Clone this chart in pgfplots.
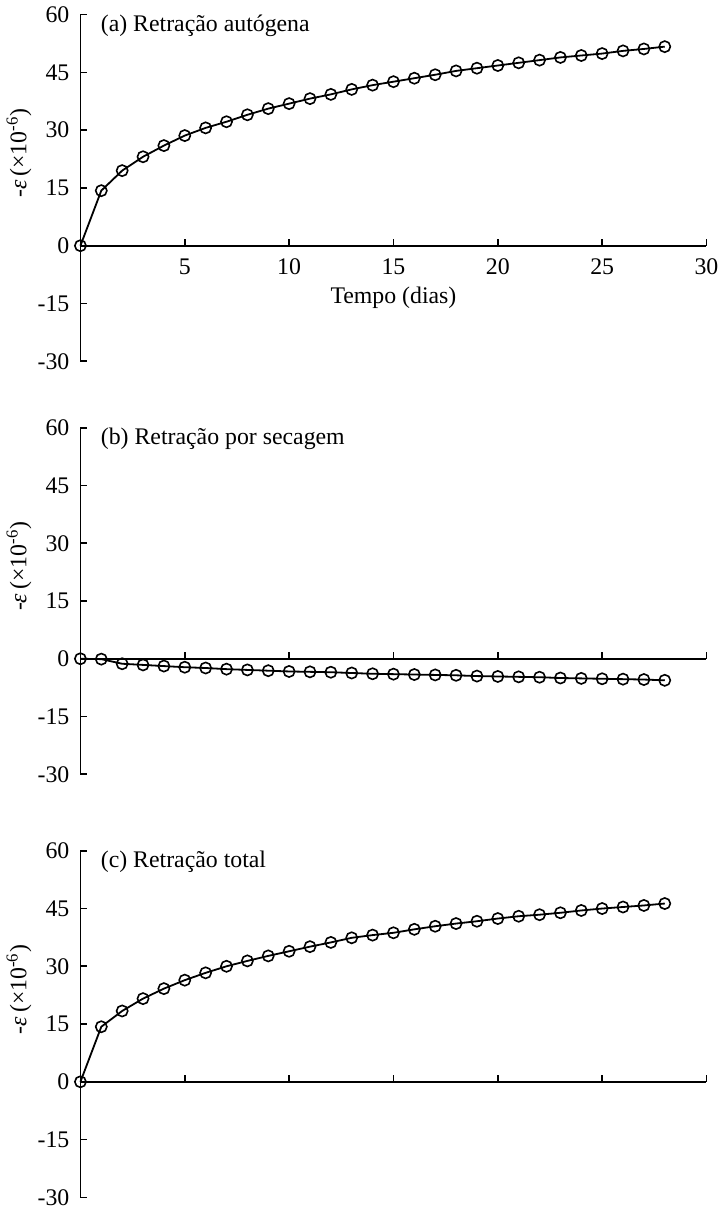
\documentclass[border=0pt]{standalone}
\usepackage{fontspec}
\setmainfont{Liberation Serif}
\usepackage{pgfplots}
\pgfplotsset{compat=1.18}

\pgfplotsset{
  panel/.style={
    scale only axis,
    width=313pt, height=173.25pt,
    xmin=0, xmax=30, ymin=-30, ymax=60,
    axis x line=middle, axis y line=left,
    axis line style={-, line width=0.8pt},
    tick align=inside,
    major tick length=3.5pt,
    tick style={line width=0.8pt, black},
    xtick={5,10,...,30},
    ytick={-30,-15,...,60},
    hide obscured x ticks=false,
    hide obscured y ticks=false,
    /pgf/number format/assume math mode=true,
    yticklabel style={xshift=-2pt},
    xticklabel style={yshift=-3pt},
    ylabel={-\textit{ε}\,(×10\textsuperscript{-6})},
    ylabel style={at={(axis description cs:-0.098,0.6)}, anchor=center, rotate=0},
    clip=false,
  },
  curve/.style={black, line width=0.9pt, mark=o, mark size=2.8pt,
    mark options={line width=0.8pt}},
}

\pgfplotstableread{
x y
0 0
1 14.3
2 19.5
3 23.1
4 26.0
5 28.6
6 30.6
7 32.2
8 34.0
9 35.6
10 36.9
11 38.2
12 39.3
13 40.6
14 41.7
15 42.6
16 43.5
17 44.4
18 45.4
19 46.1
20 46.8
21 47.5
22 48.2
23 48.9
24 49.4
25 49.9
26 50.6
27 51.1
28 51.7
}\autogena

\pgfplotstableread{
x y
0 0
1 -0.1
2 -1.3
3 -1.6
4 -1.9
5 -2.2
6 -2.4
7 -2.7
8 -2.9
9 -3.1
10 -3.3
11 -3.4
12 -3.5
13 -3.7
14 -3.9
15 -4.0
16 -4.1
17 -4.2
18 -4.3
19 -4.5
20 -4.6
21 -4.7
22 -4.8
23 -5.0
24 -5.1
25 -5.2
26 -5.3
27 -5.4
28 -5.6
}\secagem

\pgfplotstableread{
x y
0 0
1 14.3
2 18.4
3 21.6
4 24.2
5 26.4
6 28.3
7 30.0
8 31.4
9 32.7
10 33.9
11 35.1
12 36.2
13 37.4
14 38.1
15 38.7
16 39.6
17 40.4
18 41.1
19 41.7
20 42.4
21 43.0
22 43.4
23 43.9
24 44.5
25 45.0
26 45.4
27 45.8
28 46.3
}\total

\begin{document}
\begin{tikzpicture}[font=\fontsize{11.9}{14.2}\selectfont]
% (a)
\begin{axis}[panel, at={(0pt,0pt)},
  xlabel={Tempo (dias)},
  xlabel style={at={(axis description cs:0.5,0.183)}, anchor=center}]
\addplot[curve] table[x=x, y=y] {\autogena};
\node[anchor=west] at (rel axis cs:0,1) [xshift=6.7pt, yshift=-5.5pt] {(a) Retração autógena};
\end{axis}
% (b)
\begin{axis}[panel, at={(0pt,-206.5pt)}, xticklabels={}]
\addplot[curve] table[x=x, y=y] {\secagem};
\node[anchor=west] at (rel axis cs:0,1) [xshift=6.7pt, yshift=-5.5pt] {(b) Retração por secagem};
\end{axis}
% (c)
\begin{axis}[panel, at={(0pt,-418pt)}, xticklabels={}]
\addplot[curve] table[x=x, y=y] {\total};
\node[anchor=west] at (rel axis cs:0,1) [xshift=6.7pt, yshift=-5.5pt] {(c) Retração total};
\end{axis}
\end{tikzpicture}
\end{document}
